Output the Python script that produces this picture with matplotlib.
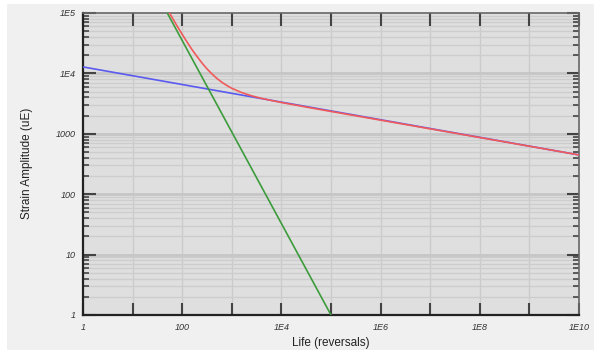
import numpy as np
import matplotlib.pyplot as plt
from matplotlib.patches import Rectangle
from matplotlib.ticker import FixedLocator, NullFormatter

# elastic line (blue), end points
elastic_life = [1, 1e10]
elastic_strain = [12800, 447]

# plastic line (green)
plastic_life = [50, 1e5]
plastic_strain = [100000, 1.0]

# total strain (red)
total_life = [52, 56, 63, 79, 100, 126, 158, 200, 251, 316, 398, 501, 631, 794,
              1000, 1585, 2512, 3981, 6310, 1e4, 3.16e4, 1e5, 1e10]
total_strain = [104000, 98600, 83700, 60650, 44340, 32870, 24720, 18950, 14840,
                11900, 9790, 8250, 7130, 6300, 5670, 4815, 4254, 3866, 3557,
                3299, 2773, 2345, 447]

x_ticks = [1, 100, 1e4, 1e6, 1e8, 1e10]
x_labels = ['1', '100', '1E4', '1E6', '1E8', '1E10']
y_ticks = [1, 10, 100, 1000, 1e4, 1e5]
y_labels = ['1', '10', '100', '1000', '1E4', '1E5']

fig = plt.figure(figsize=(5.94, 3.5), dpi=100)
fig.patch.set_facecolor('white')
fig.patches.append(Rectangle((7/594, 0), 1, 1 - 4/350, transform=fig.transFigure,
                             facecolor='#f0f0f0', edgecolor='none', zorder=-10))

ax = fig.add_axes([83/594, 1 - 315/350, 496/594, 302/350])
ax.set_facecolor('#dfdfdf')
ax.set_xscale('log')
ax.set_yscale('log')
ax.set_xlim(1, 1e10)
ax.set_ylim(1, 1e5)

# grid: vertical at every decade, horizontal at every minor step
decades_x = [10.0**k for k in range(1, 10)]
for xv in decades_x:
    ax.axvline(xv, color='#cbcbcb', lw=1.0, zorder=1)
for k in range(5):
    for m in range(2, 10):
        ax.axhline(m * 10.0**k, color='#cdcdcd', lw=1.0, zorder=1)
    if k > 0:
        ax.axhline(10.0**k, color='#c6c6c6', lw=2.0, zorder=1)

ax.plot(elastic_life, elastic_strain, color='#5a5af0', lw=1.2, zorder=3)
ax.plot(plastic_life, plastic_strain, color='#3c9c3c', lw=1.2, zorder=3)
ax.plot(total_life, total_strain, color='#f05a5a', lw=1.2, zorder=4)

ax.xaxis.set_major_locator(FixedLocator([10.0**k for k in range(11)]))
ax.xaxis.set_minor_locator(FixedLocator([]))
ax.set_xticklabels(['' if (10.0**k) not in x_ticks else x_labels[x_ticks.index(10.0**k)]
                    for k in range(11)])
ax.yaxis.set_major_locator(FixedLocator(y_ticks))
ax.set_yticklabels(y_labels)
ax.yaxis.set_minor_locator(FixedLocator([m * 10.0**k for k in range(5) for m in range(2, 10)]))
ax.yaxis.set_minor_formatter(NullFormatter())

ax.tick_params(axis='both', which='major', direction='in', length=9, width=1.5,
               color='#444444', labelsize=6.5, labelcolor='#333333',
               top=True, right=True)
ax.tick_params(axis='y', which='minor', direction='in', length=4.5, width=1.2,
               color='#444444', right=True)
ax.tick_params(axis='x', which='major', pad=6)
ax.tick_params(axis='y', which='major', pad=5)
for lab in ax.get_xticklabels() + ax.get_yticklabels():
    lab.set_fontstyle('italic')
    lab.set_family('Liberation Sans')

for side in ['left', 'bottom']:
    ax.spines[side].set_color('#222222')
    ax.spines[side].set_linewidth(1.6)
for side in ['top', 'right']:
    ax.spines[side].set_color('#666666')
    ax.spines[side].set_linewidth(1.2)

fig.text(331/594, 1 - 343/350, 'Life (reversals)', fontsize=8.5, family='Liberation Sans',
         color='#222222', ha='center', va='center')
fig.text(27/594, 1 - 163/350, 'Strain Amplitude (uE)', fontsize=8.5, family='Liberation Sans',
         color='#222222', ha='center', va='center', rotation=90)

fig.savefig('out.png', dpi=100, facecolor=fig.get_facecolor())
